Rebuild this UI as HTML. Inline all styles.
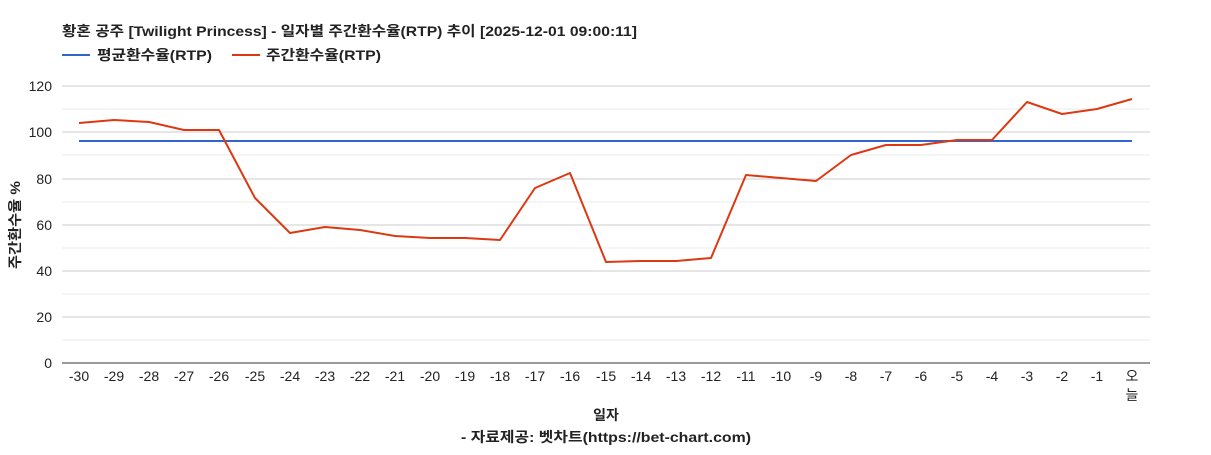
<!DOCTYPE html>
<html><head><meta charset="utf-8"><style>
body{margin:0;background:#fff;}
svg text{font-family:"Liberation Sans","Noto Sans CJK KR",sans-serif;}
</style></head><body>
<svg width="1211" height="450" xmlns="http://www.w3.org/2000/svg">
<rect width="1211" height="450" fill="#fff"/>
<text x="62" y="36" font-size="14" font-weight="bold" fill="#222" textLength="575" lengthAdjust="spacingAndGlyphs">황혼 공주 [Twilight Princess] - 일자별 주간환수율(RTP) 추이 [2025-12-01 09:00:11]</text>
<line x1="62" y1="55" x2="90" y2="55" stroke="#3366cc" stroke-width="2"/>
<text x="97" y="60" font-size="14" font-weight="bold" fill="#222" textLength="115" lengthAdjust="spacingAndGlyphs">평균환수율(RTP)</text>
<line x1="232" y1="55" x2="260" y2="55" stroke="#dc3912" stroke-width="2"/>
<text x="266" y="60" font-size="14" font-weight="bold" fill="#222" textLength="115" lengthAdjust="spacingAndGlyphs">주간환수율(RTP)</text>
<g stroke="#ebebeb" stroke-width="1">
<line x1="62" y1="340" x2="1150" y2="340"/><line x1="62" y1="294" x2="1150" y2="294"/>
<line x1="62" y1="248" x2="1150" y2="248"/><line x1="62" y1="202" x2="1150" y2="202"/>
<line x1="62" y1="155" x2="1150" y2="155"/><line x1="62" y1="109" x2="1150" y2="109"/>
</g>
<g stroke="#cccccc" stroke-width="1">
<line x1="62" y1="317" x2="1150" y2="317"/><line x1="62" y1="271" x2="1150" y2="271"/>
<line x1="62" y1="225" x2="1150" y2="225"/><line x1="62" y1="179" x2="1150" y2="179"/>
<line x1="62" y1="132" x2="1150" y2="132"/><line x1="62" y1="86" x2="1150" y2="86"/>
</g>
<line x1="62" y1="363" x2="1150" y2="363" stroke="#333" stroke-width="1"/>
<g font-size="14" fill="#222" text-anchor="end">
<text x="52" y="368">0</text><text x="52" y="322">20</text><text x="52" y="276">40</text>
<text x="52" y="230">60</text><text x="52" y="184">80</text><text x="52" y="137">100</text><text x="52" y="91">120</text>
</g>
<g font-size="14" fill="#222" text-anchor="middle">
<text x="79" y="381">-30</text><text x="114" y="381">-29</text><text x="149" y="381">-28</text><text x="184" y="381">-27</text><text x="219" y="381">-26</text><text x="255" y="381">-25</text><text x="290" y="381">-24</text><text x="325" y="381">-23</text><text x="360" y="381">-22</text><text x="395" y="381">-21</text><text x="430" y="381">-20</text><text x="465" y="381">-19</text><text x="500" y="381">-18</text><text x="535" y="381">-17</text><text x="570" y="381">-16</text><text x="606" y="381">-15</text><text x="641" y="381">-14</text><text x="676" y="381">-13</text><text x="711" y="381">-12</text><text x="746" y="381">-11</text><text x="781" y="381">-10</text><text x="816" y="381">-9</text><text x="851" y="381">-8</text><text x="886" y="381">-7</text><text x="921" y="381">-6</text><text x="957" y="381">-5</text><text x="992" y="381">-4</text><text x="1027" y="381">-3</text><text x="1062" y="381">-2</text><text x="1097" y="381">-1</text><text x="1132" y="381">오</text><text x="1132" y="400">늘</text>
</g>
<text x="606" y="420" font-size="14" font-weight="bold" fill="#222" text-anchor="middle">일자</text>
<text x="461" y="442" font-size="14" font-weight="bold" fill="#222" textLength="290" lengthAdjust="spacingAndGlyphs">- 자료제공: 벳차트(https://bet-chart.com)</text>
<text transform="translate(20,225) rotate(-90)" font-size="14" font-weight="bold" fill="#222" text-anchor="middle" textLength="88" lengthAdjust="spacingAndGlyphs">주간환수율 %</text>
<line x1="79" y1="141" x2="1132" y2="141" stroke="#3366cc" stroke-width="2"/>
<polyline fill="none" stroke="#dc3912" stroke-width="2" stroke-linejoin="round" points="79,123 114,120 149,122 184,130 219,130 255,198 290,233 325,227 360,230 395,236 430,238 465,238 500,240 535,188 570,173 606,262 641,261 676,261 711,258 746,175 781,178 816,181 851,155 886,145 921,145 957,140 992,140 1027,102 1062,114 1097,109 1132,99"/>
</svg>
</body></html>
